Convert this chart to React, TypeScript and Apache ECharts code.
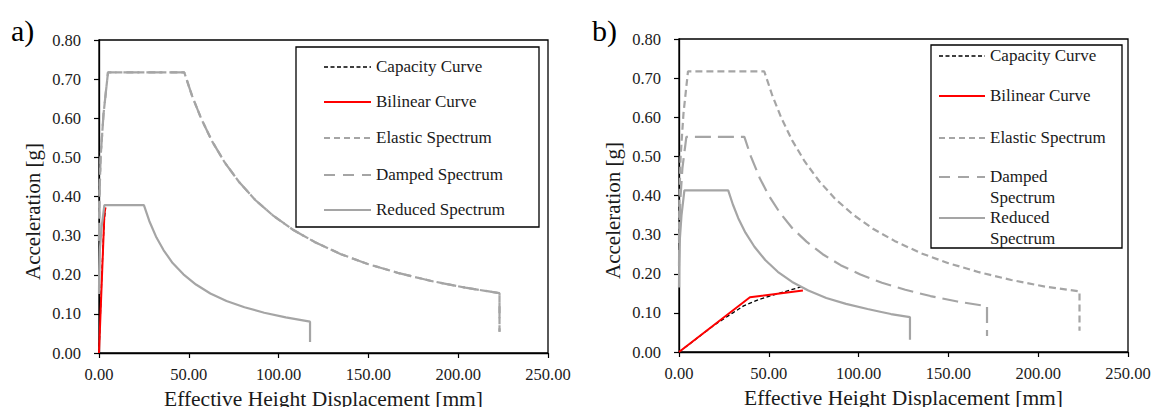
import React, { useEffect, useRef } from "react";
import * as echarts from "echarts";

// ---------- DATA ----------
const xTicks = [0, 50, 100, 150, 200, 250];
const yTicks = [0, 0.1, 0.2, 0.3, 0.4, 0.5, 0.6, 0.7, 0.8];
const legendNames = ["Capacity Curve", "Bilinear Curve", "Elastic Spectrum", "Damped Spectrum", "Reduced Spectrum"];

// Panel a)
const aCapacity: number[][] = [[0, 0], [0.8, 0.1], [1.6, 0.2], [2.4, 0.29], [3.0, 0.34], [3.6, 0.37]];
const aBilinear: number[][] = [[0, 0], [3.0, 0.355], [3.6, 0.372]];
const aElastic: number[][] = [
  [0, 0.287], [0.2, 0.39], [0.9, 0.5], [2.5, 0.61], [5, 0.717], [47.5, 0.717], [52, 0.655], [57, 0.598],
  [63, 0.541], [70, 0.487], [78, 0.437], [87, 0.391], [97, 0.351], [108, 0.315], [120, 0.284], [135, 0.252],
  [150, 0.227], [167, 0.204], [185, 0.184], [204, 0.167], [223, 0.153], [223, 0.054],
];
const aDamped: number[][] = aElastic;
const aReduced: number[][] = [
  [0, 0.151], [0.1, 0.21], [0.5, 0.265], [1.4, 0.32], [3, 0.378], [25, 0.378], [28, 0.3375], [32, 0.295],
  [36, 0.2625], [41, 0.23], [47, 0.201], [54, 0.175], [62, 0.152], [71, 0.133], [81, 0.117], [92, 0.103],
  [104, 0.091], [117.5, 0.08], [117.5, 0.028],
];

// Panel b)
const bCapacity: number[][] = [[0, 0], [10, 0.035], [20, 0.07], [30, 0.1], [36, 0.118], [45, 0.135], [55, 0.149], [69, 0.168]];
const bBilinear: number[][] = [[0, 0], [39.5, 0.14], [69, 0.157]];
const bElastic: number[][] = [
  [0, 0.287], [0.2, 0.39], [0.9, 0.5], [2.5, 0.61], [5, 0.717], [47.5, 0.717], [52, 0.655], [57, 0.598],
  [63, 0.541], [70, 0.487], [78, 0.437], [87, 0.391], [97, 0.351], [108, 0.315], [120, 0.284], [135, 0.252],
  [150, 0.227], [167, 0.204], [185, 0.184], [204, 0.167], [223, 0.155], [223, 0.054],
];
const bDamped: number[][] = [
  [0, 0.22], [0.15, 0.3], [0.7, 0.385], [1.9, 0.47], [4.1, 0.55], [36.4, 0.55], [40, 0.5], [45, 0.444],
  [50, 0.4], [56, 0.357], [63, 0.317], [71, 0.282], [80, 0.25], [90, 0.222], [101, 0.198], [113, 0.177],
  [126, 0.159], [140, 0.143], [155, 0.129], [171.5, 0.117], [171.5, 0.041],
];
const bReduced: number[][] = [
  [0, 0.165], [0.1, 0.227], [0.5, 0.29], [1.4, 0.35], [3, 0.413], [27.4, 0.413], [30, 0.377], [33, 0.342],
  [37, 0.305], [42, 0.269], [48, 0.235], [55, 0.205], [63, 0.179], [72, 0.157], [82, 0.138], [93, 0.123],
  [105, 0.11], [112, 0.103], [118, 0.097], [128.6, 0.089], [128.6, 0.031],
];

// ---------- STYLE ----------
const SERIF = "Liberation Serif";
const GRAY = "#a5a5a5";
const RED = "#ff0000";
const TXT = "#1a1a1a";
const DASH_CAP = [4, 2.5];
const DASH_EL = [7, 4];
const DASH_DA = [16, 7];

function makeAxes(idx: number) {
  const x = {
    gridIndex: idx,
    type: "value",
    min: xTicks[0],
    max: xTicks[xTicks.length - 1],
    interval: xTicks[1] - xTicks[0],
    axisLine: { show: true, onZero: false, lineStyle: { color: "#000", width: 1.3 } },
    axisTick: { show: true, inside: false, length: 5, lineStyle: { color: "#000", width: 1.2 } },
    splitLine: { show: false },
    axisLabel: { formatter: (v: number) => v.toFixed(2), color: TXT, fontSize: 16.5, fontFamily: SERIF, margin: 13 },
    name: "Effective Height Displacement [mm]",
    nameLocation: "middle",
    nameGap: 32,
    nameTextStyle: { fontSize: 21.5, fontFamily: SERIF, color: TXT },
  };
  const y = {
    gridIndex: idx,
    type: "value",
    min: yTicks[0],
    max: yTicks[yTicks.length - 1],
    interval: 0.1,
    axisLine: { show: true, onZero: false, lineStyle: { color: "#000", width: 1.3 } },
    axisTick: { show: true, inside: false, length: 5, lineStyle: { color: "#000", width: 1.2 } },
    splitLine: { show: false },
    axisLabel: { formatter: (v: number) => v.toFixed(2), color: TXT, fontSize: 16.5, fontFamily: SERIF, margin: 18 },
    name: "Acceleration [g]",
    nameLocation: "middle",
    nameGap: 56,
    nameTextStyle: { fontSize: 21, fontFamily: SERIF, color: TXT, padding: [0, 30, 0, 0] },
  };
  return { x, y };
}

function line(name: string, idx: number, data: number[][], color: string, width: number, dash: any) {
  return {
    name,
    type: "line",
    xAxisIndex: idx,
    yAxisIndex: idx,
    data,
    showSymbol: false,
    symbol: "none",
    silent: true,
    lineStyle: { color, width, type: dash },
    z: 2,
  };
}

function legendGraphic(
  box: { x: number; y: number; w: number; h: number },
  lx1: number,
  lx2: number,
  tx: number,
  rows: { y: number; text: string }[]
) {
  const styles = [
    { stroke: "#000", lineWidth: 1.3, lineDash: DASH_CAP },
    { stroke: RED, lineWidth: 2.2, lineDash: null },
    { stroke: GRAY, lineWidth: 2.2, lineDash: [6, 4] },
    { stroke: GRAY, lineWidth: 2.2, lineDash: [11, 8] },
    { stroke: GRAY, lineWidth: 2.2, lineDash: null },
  ];
  const children: any[] = [
    {
      type: "rect",
      shape: { x: box.x, y: box.y, width: box.w, height: box.h },
      style: { fill: "#fff", stroke: "#000", lineWidth: 1.3 },
      z: 100,
    },
  ];
  rows.forEach((r, i) => {
    children.push({
      type: "line",
      shape: { x1: lx1, y1: r.y, x2: lx2, y2: r.y },
      style: { stroke: styles[i].stroke, lineWidth: styles[i].lineWidth, lineDash: styles[i].lineDash },
      z: 101,
    });
    children.push({
      type: "text",
      x: tx,
      y: r.y - 11,
      style: { text: r.text, fontSize: 17, fontFamily: SERIF, fill: TXT, lineHeight: 21, verticalAlign: "top" },
      z: 101,
    });
  });
  return children;
}

export default function App() {
  const ref = useRef<HTMLDivElement>(null);
  useEffect(() => {
    document.body.style.margin = "0";
    if (!ref.current) return;
    const chart = echarts.init(ref.current, undefined, { renderer: "svg" });
    const a = makeAxes(0);
    const b = makeAxes(1);

    const legA = legendGraphic({ x: 296, y: 47, w: 243, h: 180 }, 324, 371, 376, [
      { y: 67, text: legendNames[0] },
      { y: 102, text: legendNames[1] },
      { y: 138, text: legendNames[2] },
      { y: 175, text: legendNames[3] },
      { y: 210, text: legendNames[4] },
    ]);
    const legB = legendGraphic({ x: 931, y: 45, w: 191, h: 203 }, 939, 985, 990, [
      { y: 56, text: legendNames[0] },
      { y: 96, text: legendNames[1] },
      { y: 138, text: legendNames[2] },
      { y: 177, text: "Damped\nSpectrum" },
      { y: 218, text: "Reduced\nSpectrum" },
    ]);

    const gridBase = {
      width: 449,
      height: 313,
      show: true,
      borderColor: "#000",
      borderWidth: 1.3,
      backgroundColor: "transparent",
      containLabel: false,
      outerBoundsMode: "none",
    };

    chart.setOption({
      animation: false,
      backgroundColor: "#fff",
      grid: [
        { ...gridBase, left: 99, top: 40 },
        { ...gridBase, left: 679, top: 39 },
      ],
      xAxis: [a.x, b.x],
      yAxis: [a.y, b.y],
      series: [
        line(legendNames[0], 0, aCapacity, "#000", 1.3, DASH_CAP),
        line(legendNames[1], 0, aBilinear, RED, 2, "solid"),
        line(legendNames[2], 0, aElastic, GRAY, 2.2, DASH_EL),
        line(legendNames[3], 0, aDamped, GRAY, 2.2, DASH_DA),
        line(legendNames[4], 0, aReduced, GRAY, 2.2, "solid"),
        line(legendNames[0], 1, bCapacity, "#000", 1.3, DASH_CAP),
        line(legendNames[1], 1, bBilinear, RED, 2, "solid"),
        line(legendNames[2], 1, bElastic, GRAY, 2.2, DASH_EL),
        line(legendNames[3], 1, bDamped, GRAY, 2.2, DASH_DA),
        line(legendNames[4], 1, bReduced, GRAY, 2.2, "solid"),
      ],
      graphic: [
        { type: "text", x: 11, y: 15, style: { text: "a)", fontSize: 30, fontFamily: SERIF, fill: "#000" } },
        { type: "text", x: 592, y: 15, style: { text: "b)", fontSize: 30, fontFamily: SERIF, fill: "#000" } },
        ...legA,
        ...legB,
      ],
    });
    return () => chart.dispose();
  }, []);
  return <div ref={ref} style={{ width: 1155, height: 407 }} />;
}
